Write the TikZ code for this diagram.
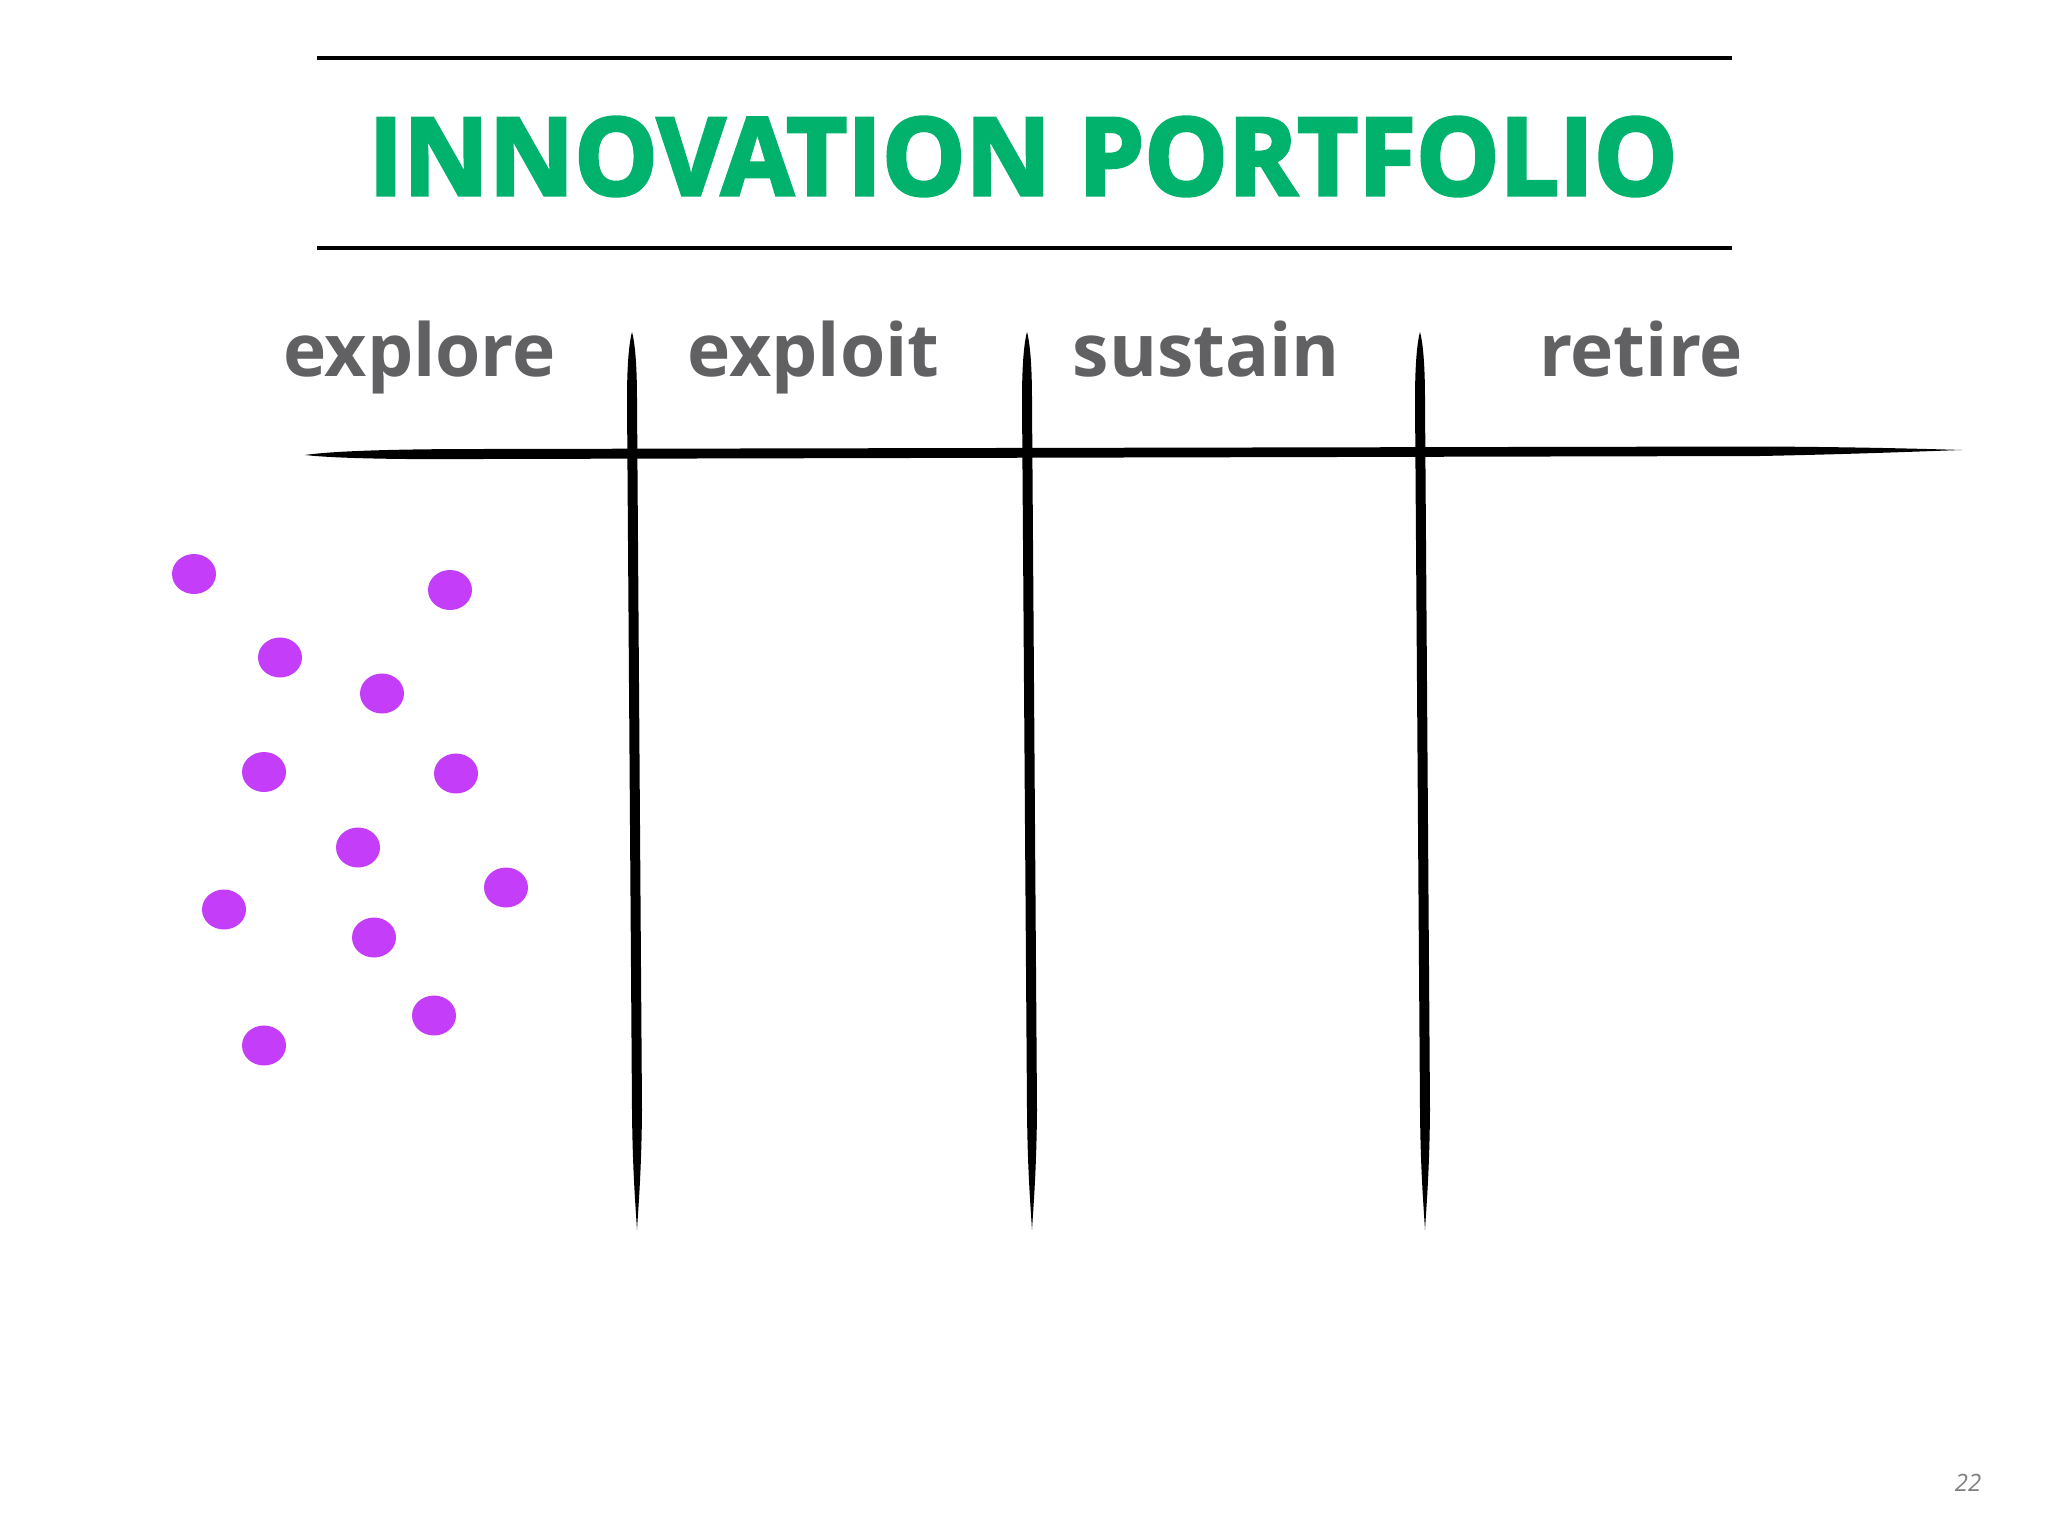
\documentclass[tikz,border=0pt]{standalone}
\usepackage{fontspec}
\setmainfont{Open Sans}
\newfontfamily\titlefont{Open Sans}[BoldFeatures={FakeBold=3}]
\definecolor{ttlgreen}{RGB}{0,178,107}
\definecolor{lblgray}{RGB}{97,97,99}
\definecolor{dotpurple}{RGB}{196,62,250}
\definecolor{pggray}{RGB}{128,128,128}
\tikzset{
  lbl/.style={anchor=base, inner sep=0pt, text=lblgray, font=\fontsize{20.8}{25}\selectfont\bfseries},
  dotfill/.style={fill=dotpurple, draw=none},
  rulebar/.style={line width=0.04cm, draw=black},
  brush/.style={fill=black, draw=none},
}
\newcommand\brushV[2]{%
  \fill[brush] (#1,332) .. controls (#1-3.5,345) and (#1-5,370) .. (#1-5,400)
    -- (#2-5,1110) .. controls (#2-4.5,1170) and (#2-1.5,1205) .. (#2,1230)
    .. controls (#2+1.5,1205) and (#2+4.5,1170) .. (#2+5,1110)
    -- (#1+5,400) .. controls (#1+5,370) and (#1+3.5,345) .. (#1,332) -- cycle;}
\begin{document}
\begin{tikzpicture}[x=0.01cm, y=-0.01cm]
  \fill[white] (0,0) rectangle (2048,1536);
  \useasboundingbox (0,0) rectangle (2048,1536);

  % title rules
  \draw[rulebar] (317,57.5) -- (1732,57.5);
  \draw[rulebar] (317,248) -- (1732,248);

  % title
  \node[anchor=base, inner sep=0pt, text=ttlgreen] (title) at (1023,195)
    {\resizebox{13.08cm}{0.78cm}{\titlefont\bfseries INNOVATION PORTFOLIO}};

  % column labels
  \node[lbl] (lexplore) at (419.5,376) {explore};
  \node[lbl] (lexploit) at (813.5,376) {exploit};
  \node[lbl] (lsustain) at (1206.5,376) {sustain};
  \node[lbl] (lretire)  at (1641,376) {retire};

  % horizontal brush stroke
  \fill[brush] (305,455) .. controls (340,450) and (420,449) .. (480,449)
    -- (1760,446.5) .. controls (1860,447) and (1930,449) .. (1962,450)
    .. controls (1930,451) and (1860,454) .. (1760,456)
    -- (480,459) .. controls (420,459.5) and (340,459) .. (305,455) -- cycle;

  % vertical brush strokes
  \brushV{632}{637}
  \brushV{1027}{1032}
  \brushV{1420}{1425}

  % dots
  \foreach \px/\py in {194/574, 450/590, 280/657.5, 382/693.5, 264/772, 456/773.5,
                       358/847.5, 506/887.5, 224/909.5, 374/937.5, 434/1015.5, 264/1045.5}
    \fill[dotfill] (\px,\py) ellipse [x radius=22, y radius=20];

  % page number
  \node[anchor=base, inner sep=0pt, text=pggray, font=\fontsize{6.8}{8}\selectfont\itshape] (pagenum) at (1968,1491) {22};
\end{tikzpicture}
\end{document}
